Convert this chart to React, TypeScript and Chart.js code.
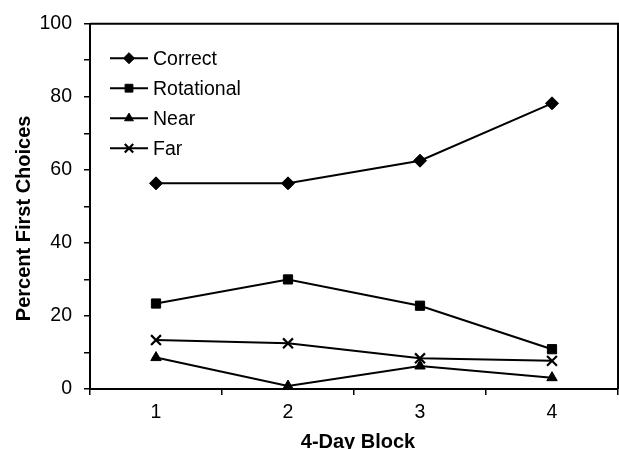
import React, { useEffect, useRef } from 'react';
import { Chart, registerables } from 'chart.js';
import { drawPoint } from 'chart.js/helpers';

Chart.register(...registerables);

const categories = ['1', '2', '3', '4'];
const seriesNames = ['Correct', 'Rotational', 'Near', 'Far'];
const correct = [56.3, 56.3, 62.5, 78.2];
const rotational = [23.4, 30.0, 22.8, 10.9];
const near = [8.6, 0.8, 6.3, 3.1];
const far = [13.4, 12.5, 8.4, 7.7];
const yTickLabels = [0, 20, 40, 60, 80, 100];
const xTitle = '4-Day Block';
const yTitle = 'Percent First Choices';

const FONT = '"Liberation Sans", Arial, sans-serif';

const styles = [
  { pointStyle: 'rectRot', pointRadius: 6.5, pointBorderWidth: 1 },
  { pointStyle: 'rect', pointRadius: 6.5, pointBorderWidth: 1 },
  { pointStyle: 'triangle', pointRadius: 6, pointBorderWidth: 1 },
  { pointStyle: 'crossRot', pointRadius: 7, pointBorderWidth: 2.2 },
];

const frameAndText = {
  id: 'frameAndText',
  afterDraw(chart: any) {
    const { ctx, chartArea } = chart;
    const { left, right, top, bottom } = chartArea;
    ctx.save();
    // frame (top and right)
    ctx.strokeStyle = '#000';
    ctx.lineWidth = 2;
    ctx.beginPath();
    ctx.moveTo(left, top);
    ctx.lineTo(right, top);
    ctx.lineTo(right, bottom);
    ctx.stroke();

    // legend
    const lx0 = left + 20;
    const lx1 = left + 58;
    const tx = left + 63;
    const ly0 = top + 34.5;
    const dy = 30;
    chart.data.datasets.forEach((ds: any, i: number) => {
      const y = ly0 + i * dy;
      ctx.strokeStyle = '#000';
      ctx.fillStyle = '#000';
      ctx.lineWidth = 2;
      ctx.beginPath();
      ctx.moveTo(lx0, y);
      ctx.lineTo(lx1, y);
      ctx.stroke();
      ctx.lineWidth = ds.pointBorderWidth;
      drawPoint(
        ctx,
        {
          pointStyle: ds.pointStyle,
          radius: ds.pointRadius * 0.85,
          borderWidth: ds.pointBorderWidth,
          rotation: 0,
        } as any,
        (lx0 + lx1) / 2,
        y
      );
      ctx.font = `19.5px ${FONT}`;
      ctx.textAlign = 'left';
      ctx.textBaseline = 'alphabetic';
      ctx.fillText(ds.label, tx, y + 7);
    });

    // axis titles
    ctx.fillStyle = '#000';
    ctx.font = `bold 20px ${FONT}`;
    ctx.textAlign = 'center';
    ctx.textBaseline = 'alphabetic';
    ctx.fillText(xTitle, (left + right) / 2 + 4, 447.5);
    ctx.translate(29.5, (top + bottom) / 2 + 12);
    ctx.rotate(-Math.PI / 2);
    ctx.fillText(yTitle, 0, 0);
    ctx.restore();
  },
};

export default function App() {
  const ref = useRef<HTMLCanvasElement | null>(null);

  useEffect(() => {
    if (!ref.current) return;
    const seriesData = [correct, rotational, near, far];
    const chart = new Chart(ref.current, {
      type: 'line',
      data: {
        labels: categories,
        datasets: seriesNames.map((name, i) => ({
          label: name,
          data: seriesData[i],
          borderColor: '#000',
          backgroundColor: '#000',
          pointBackgroundColor: '#000',
          pointBorderColor: '#000',
          borderWidth: 2,
          tension: 0,
          clip: false,
          ...styles[i],
        })) as any,
      },
      options: {
        responsive: false,
        animation: false,
        layout: { autoPadding: false, padding: { top: 23, right: 1, left: 0, bottom: 0 } },
        plugins: {
          legend: { display: false },
          tooltip: { enabled: false },
        },
        scales: {
          x: {
            type: 'category',
            offset: true,
            grid: {
              offset: true,
              drawOnChartArea: false,
              drawTicks: true,
              tickLength: 6,
              color: '#000',
              lineWidth: 1.5,
            },
            border: { display: true, color: '#000', width: 2 },
            ticks: {
              color: '#000',
              font: { family: FONT, size: 19.5 },
              padding: 6,
              maxRotation: 0,
            },
            afterFit: (s: any) => {
              s.height = 60;
            },
          },
          y: {
            min: 0,
            max: 100,
            ticks: {
              stepSize: 10,
              autoSkip: false,
              color: '#000',
              font: { family: FONT, size: 19.5 },
              padding: 12,
              callback: (v: any) => (yTickLabels.includes(Number(v)) ? String(v) : ''),
            },
            grid: {
              drawOnChartArea: false,
              drawTicks: true,
              tickLength: 6,
              color: '#000',
              lineWidth: 1.5,
            },
            border: { display: true, color: '#000', width: 2 },
            afterFit: (s: any) => {
              s.width = 90;
            },
          },
        },
      } as any,
      plugins: [frameAndText],
    });
    return () => chart.destroy();
  }, []);

  return (
    <div style={{ position: 'absolute', left: 0, top: 0, width: 619, height: 449, background: '#fff' }}>
      <canvas ref={ref} width={619} height={449} style={{ display: 'block' }} />
    </div>
  );
}
